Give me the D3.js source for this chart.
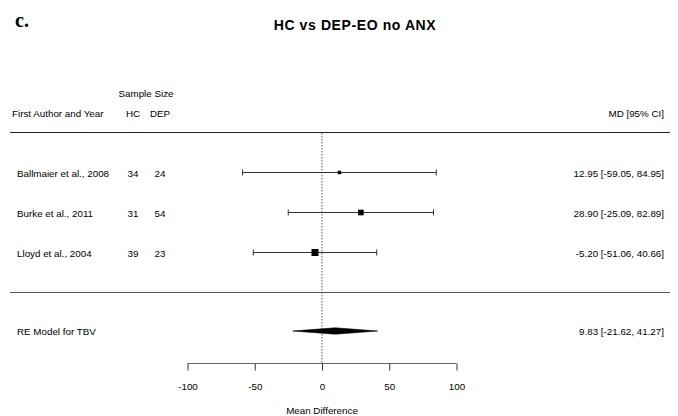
<!DOCTYPE html>
<html>
<head>
<meta charset="utf-8">
<script src="https://cdn.jsdelivr.net/npm/d3@7"></script>
<style>
  body { margin: 0; background: #fff; }
  svg { display: block; font-family: "Liberation Sans", Arial, sans-serif; }
</style>
</head>
<body>
<svg id="chart" width="678" height="416"></svg>
<script>
/* Forest plot: HC vs DEP-EO no ANX */

const studies = ['Ballmaier et al., 2008', 'Burke et al., 2011', 'Lloyd et al., 2004'];
const nHC = [34, 31, 39];
const nDEP = [24, 54, 23];
const md = [12.95, 28.90, -5.20];
const ciLow = [-59.05, -25.09, -51.06];
const ciHigh = [84.95, 82.89, 40.66];
const weights = [13.2, 34.0, 52.8]; // approximate weights (marker size)

const summaryLabel = 'RE Model for TBV';
const summary = [9.83, -21.62, 41.27];

const xTicks = [-100, -50, 0, 50, 100];

const svg = d3.select('#chart');
// plain hyphen minus, like the original
const locale = d3.formatLocale({ decimal: '.', thousands: ',', grouping: [3], currency: ['', ''], minus: '-' });
const fmt = locale.format('.2f');

const x = d3.scaleLinear().domain([-100, 100]).range([187.5, 456.5]);
const y = d3.scaleBand().domain(studies).range([152, 272]);
const size = d3.scaleSqrt().domain([0, d3.max(weights)]).range([0, 7]);

const FONT = 9.8;
const TXT = 5;  // baseline offset from row centre

// Panel letter + title
svg.append('text').attr('x', 15).attr('y', 27)
    .attr('font-family', '"Liberation Serif", "Times New Roman", serif')
    .attr('font-weight', 'bold').attr('font-size', 20).text('c.');

svg.append('text').attr('x', 355).attr('y', 30)
    .attr('text-anchor', 'middle').attr('font-weight', 'bold')
    .attr('font-size', 14).attr('letter-spacing', 0.6).text('HC vs DEP-EO no ANX');

// Headers
svg.append('text').attr('x', 146).attr('y', 97).attr('text-anchor', 'middle')
    .attr('font-size', FONT).text('Sample Size');
svg.append('text').attr('x', 12).attr('y', 117).attr('font-size', FONT).text('First Author and Year');
svg.append('text').attr('x', 133).attr('y', 117).attr('text-anchor', 'middle').attr('font-size', FONT).text('HC');
svg.append('text').attr('x', 160).attr('y', 117).attr('text-anchor', 'middle').attr('font-size', FONT).text('DEP');
svg.append('text').attr('x', 664).attr('y', 117).attr('text-anchor', 'end').attr('font-size', FONT).text('MD [95% CI]');

// Separator lines
svg.append('line').attr('x1', 10).attr('x2', 670).attr('y1', 132.5).attr('y2', 132.5)
    .attr('stroke', '#222').attr('stroke-width', 1);
svg.append('line').attr('x1', 10).attr('x2', 670).attr('y1', 292.5).attr('y2', 292.5)
    .attr('stroke', '#555').attr('stroke-width', 1);

// Reference line at 0
svg.append('line').attr('x1', x(0)).attr('x2', x(0)).attr('y1', 133).attr('y2', 364)
    .attr('stroke', '#333').attr('stroke-width', 0.8).attr('stroke-dasharray', '1.5,1.5');

// Study rows
const rows = svg.selectAll('.row').data(studies).enter().append('g')
    .attr('class', 'row')
    .attr('transform', d => `translate(0, ${y(d) + y.bandwidth() / 2})`);

rows.append('text').attr('x', 17).attr('y', TXT).attr('font-size', FONT).text(d => d);
rows.append('text').attr('x', 133).attr('y', TXT).attr('text-anchor', 'middle')
    .attr('font-size', FONT).text((d, i) => nHC[i]);
rows.append('text').attr('x', 160).attr('y', TXT).attr('text-anchor', 'middle')
    .attr('font-size', FONT).text((d, i) => nDEP[i]);
rows.append('text').attr('x', 664).attr('y', TXT).attr('text-anchor', 'end')
    .attr('font-size', FONT)
    .text((d, i) => `${fmt(md[i])} [${fmt(ciLow[i])}, ${fmt(ciHigh[i])}]`);

rows.append('line')
    .attr('x1', (d, i) => x(ciLow[i])).attr('x2', (d, i) => x(ciHigh[i]))
    .attr('y1', 0.5).attr('y2', 0.5)
    .attr('stroke', '#333').attr('stroke-width', 1);
[ciLow, ciHigh].forEach(arr => {
    rows.append('line')
        .attr('x1', (d, i) => x(arr[i])).attr('x2', (d, i) => x(arr[i]))
        .attr('y1', -2.5).attr('y2', 3.5)
        .attr('stroke', '#333').attr('stroke-width', 1);
});
rows.append('rect')
    .attr('x', (d, i) => x(md[i]) - size(weights[i]) / 2)
    .attr('y', (d, i) => 0.5 - size(weights[i]) / 2)
    .attr('width', (d, i) => size(weights[i]))
    .attr('height', (d, i) => size(weights[i]))
    .attr('fill', '#000');

// Summary row
const sy = 331;
svg.append('text').attr('x', 17).attr('y', sy + TXT - 1).attr('font-size', FONT).text(summaryLabel);
svg.append('text').attr('x', 664).attr('y', sy + TXT - 1).attr('text-anchor', 'end').attr('font-size', FONT)
    .text(`${fmt(summary[0])} [${fmt(summary[1])}, ${fmt(summary[2])}]`);
const dh = 3.2;
svg.append('polygon')
    .attr('points', [
        [x(summary[1]), sy],
        [x(summary[0]), sy - dh],
        [x(summary[2]), sy],
        [x(summary[0]), sy + dh]
    ].map(p => p.join(',')).join(' '))
    .attr('fill', '#000').attr('stroke', '#000').attr('stroke-width', 0.6);

// X axis
const axisG = svg.append('g').attr('transform', 'translate(0, 363.5)');
axisG.call(d3.axisBottom(x).tickValues(xTicks).tickSize(7).tickPadding(13).tickFormat(locale.format('d')));
axisG.select('.domain').attr('stroke', '#666').attr('stroke-width', 1.2).attr('d', `M${x(-100)},0H${x(100)}`);
axisG.selectAll('.tick line').attr('stroke', '#333');
axisG.selectAll('.tick text').attr('font-size', FONT).attr('fill', '#000')
    .attr('font-family', '"Liberation Sans", Arial, sans-serif');

svg.append('text').attr('x', x(0)).attr('y', 414).attr('text-anchor', 'middle')
    .attr('font-size', FONT).text('Mean Difference');
</script>
</body>
</html>
